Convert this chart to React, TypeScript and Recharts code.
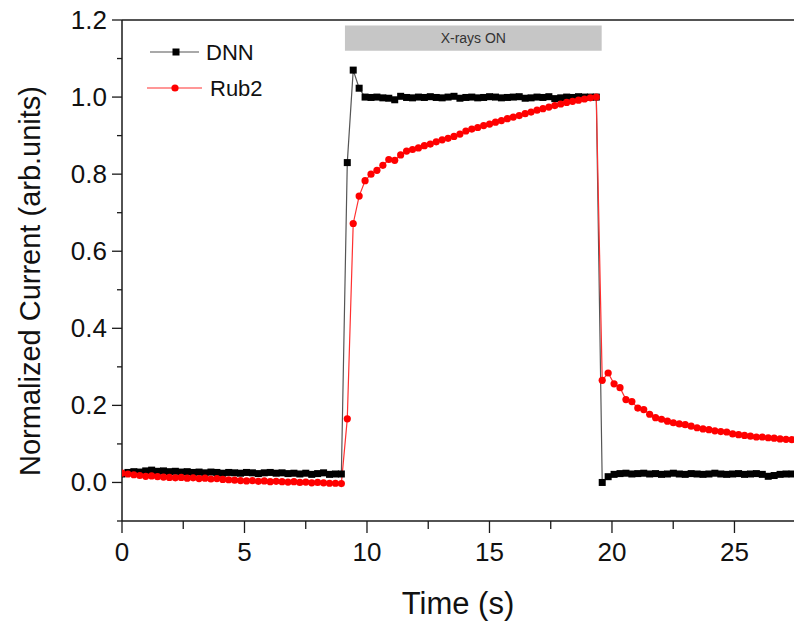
import React from "react";
import {
  LineChart,
  Line,
  XAxis,
  YAxis,
  ReferenceLine,
  ReferenceArea,
} from "recharts";

// sampling interval of the recorder (s); sample i sits at i * SAMPLE_STEP
const SAMPLE_STEP = 0.242;

const dnnValues = [
  // dark, before exposure
  0.022, 0.026, 0.028, 0.027, 0.03, 0.032, 0.029, 0.03, 0.028, 0.029,
  0.027, 0.028, 0.026, 0.027, 0.025, 0.027, 0.026, 0.024, 0.026, 0.025,
  0.024, 0.026, 0.025, 0.023, 0.025, 0.026, 0.024, 0.025, 0.023, 0.024,
  0.022, 0.024, 0.021, 0.023, 0.025, 0.021, 0.022, 0.022,
  // X-rays on
  0.83, 1.07, 1.023,
  1.0, 0.999, 1.0, 0.998, 0.997, 0.993, 1.002, 0.999, 0.998, 1.0,
  0.999, 1.001, 0.999, 0.998, 1.0, 1.002, 0.997, 0.999, 1.0, 0.998,
  0.999, 1.001, 1.0, 0.998, 0.999, 1.0, 1.001, 0.997, 0.998, 1.0,
  0.999, 1.001, 0.996, 0.998, 1.0, 0.999, 1.001, 1.0, 1.0, 1.0,
  // X-rays off
  0.0, 0.015,
  0.021, 0.023, 0.024, 0.022, 0.023, 0.024, 0.022, 0.023, 0.021, 0.022,
  0.024, 0.022, 0.021, 0.023, 0.022, 0.021, 0.022, 0.024, 0.022, 0.021,
  0.022, 0.023, 0.021, 0.022, 0.023, 0.021, 0.016, 0.018, 0.021, 0.022,
  0.022,
];

const rub2Values = [
  0.024, 0.022, 0.02, 0.018, 0.016, 0.017, 0.015, 0.014, 0.013, 0.012,
  0.013, 0.011, 0.012, 0.01, 0.011, 0.009, 0.01, 0.008, 0.007, 0.006,
  0.005, 0.004, 0.005, 0.003, 0.004, 0.002, 0.003, 0.002, 0.001, 0.002,
  0.0, 0.001, -0.001, 0.0, -0.001, -0.002, -0.002, -0.003,
  0.165, 0.672, 0.743,
  0.783, 0.8, 0.81, 0.823, 0.838, 0.836, 0.85, 0.86, 0.864, 0.868,
  0.874, 0.878, 0.884, 0.889, 0.893, 0.898, 0.904, 0.912, 0.917, 0.921,
  0.926, 0.93, 0.935, 0.939, 0.944, 0.948, 0.952, 0.957, 0.961, 0.966,
  0.97, 0.974, 0.978, 0.982, 0.986, 0.989, 0.992, 0.995, 0.998, 1.0,
  0.265, 0.284,
  0.256, 0.246, 0.215, 0.21, 0.193, 0.189, 0.177, 0.168, 0.164, 0.159,
  0.155, 0.152, 0.15, 0.146, 0.142, 0.139, 0.137, 0.134, 0.132, 0.131,
  0.126, 0.124, 0.122, 0.12, 0.118, 0.118, 0.116, 0.115, 0.113, 0.112,
  0.111,
];

const xTicks = [0, 2.5, 5, 7.5, 10, 12.5, 15, 17.5, 20, 22.5, 25];
const yTicks = [-0.1, 0, 0.1, 0.2, 0.3, 0.4, 0.5, 0.6, 0.7, 0.8, 0.9, 1.0, 1.1, 1.2];

const xrayOn = { start: 9.1, end: 19.58, low: 1.12, high: 1.186, text: "X-rays ON" };

const data = dnnValues.map((v, i) => ({
  t: i * SAMPLE_STEP,
  dnn: v,
  rub2: rub2Values[i],
}));

const FONT = "'Liberation Sans', Arial, sans-serif";
const AXIS = "#1a1a1a";

function XTick({ x, y, payload }: any) {
  const major = payload.value % 5 === 0;
  return (
    <g>
      <line x1={x} x2={x} y1={y} y2={y + (major ? 12 : 8)} stroke={AXIS} strokeWidth={1.3} />
      {major && (
        <text x={x} y={y + 40} textAnchor="middle" fontSize={26} fill="#111" fontFamily={FONT}>
          {payload.value}
        </text>
      )}
    </g>
  );
}

function YTick({ x, y, payload }: any) {
  const major = Math.round(payload.value * 10) % 2 === 0;
  return (
    <g>
      <line x1={x} x2={x - (major ? 10 : 5)} y1={y} y2={y} stroke={AXIS} strokeWidth={1.3} />
      {major && (
        <text x={x - 15} y={y + 9} textAnchor="end" fontSize={26} fill="#111" fontFamily={FONT}>
          {payload.value.toFixed(1)}
        </text>
      )}
    </g>
  );
}

function SquareDot({ cx, cy, index }: any) {
  return <rect key={`d${index}`} x={cx - 3.5} y={cy - 3.5} width={7} height={7} fill="#000" />;
}

function RoundDot({ cx, cy, index }: any) {
  return <circle key={`r${index}`} cx={cx} cy={cy} r={3.6} fill="#ff0000" />;
}

export default function App() {
  return (
    <div style={{ position: "absolute", left: 0, top: 0, width: 794, height: 628, background: "#fff" }}>
      <LineChart width={794} height={628} data={data} margin={{ top: 20, right: 0, bottom: 0, left: 0 }}>
        <XAxis
          dataKey="t"
          type="number"
          domain={[0, 27.43]}
          allowDataOverflow
          ticks={xTicks}
          interval={0}
          height={107}
          tickSize={0}
          tickMargin={0}
          tickLine={false}
          tick={<XTick />}
          axisLine={{ stroke: AXIS, strokeWidth: 1.5 }}
          label={{
            content: () => (
              <text x={458} y={614} textAnchor="middle" fontSize={31} fill="#111" fontFamily={FONT}>
                Time (s)
              </text>
            ),
          }}
        />
        <YAxis
          type="number"
          domain={[-0.1, 1.2]}
          ticks={yTicks}
          interval={0}
          width={122}
          tickSize={0}
          tickMargin={0}
          tickLine={false}
          tick={<YTick />}
          axisLine={{ stroke: AXIS, strokeWidth: 1.5 }}
          label={{
            content: () => (
              <text
                x={40}
                y={281}
                transform="rotate(-90 40 281)"
                textAnchor="middle"
                fontSize={29}
                fill="#111"
                fontFamily={FONT}
              >
                Normalized Current (arb.units)
              </text>
            ),
          }}
        />
        <ReferenceLine y={1.2} stroke={AXIS} strokeWidth={1.5} />
        <ReferenceArea
          x1={xrayOn.start}
          x2={xrayOn.end}
          y1={xrayOn.low}
          y2={xrayOn.high}
          fill="#c6c6c6"
          fillOpacity={1}
          stroke="none"
          label={{ value: xrayOn.text, position: "center", fontSize: 14, fill: "#333", fontFamily: FONT }}
        />
        <Line
          dataKey="dnn"
          type="linear"
          stroke="#555"
          strokeWidth={1.2}
          dot={<SquareDot />}
          activeDot={false}
          isAnimationActive={false}
        />
        <Line
          dataKey="rub2"
          type="linear"
          stroke="#ff3030"
          strokeWidth={1.2}
          dot={<RoundDot />}
          activeDot={false}
          isAnimationActive={false}
        />
      </LineChart>
      <svg
        width={794}
        height={628}
        style={{ position: "absolute", left: 0, top: 0, pointerEvents: "none" }}
        fontFamily={FONT}
      >
        <line x1={150} x2={199} y1={52} y2={52} stroke="#555" strokeWidth={1.2} />
        <rect x={172.5} y={48.5} width={7} height={7} fill="#000" />
        <text x={206} y={60} fontSize={22} fill="#111">DNN</text>
        <line x1={147} x2={202} y1={88} y2={88} stroke="#ff3030" strokeWidth={1.2} />
        <circle cx={175} cy={88} r={3.6} fill="#ff0000" />
        <text x={210} y={96} fontSize={22} fill="#111">Rub2</text>
      </svg>
    </div>
  );
}
